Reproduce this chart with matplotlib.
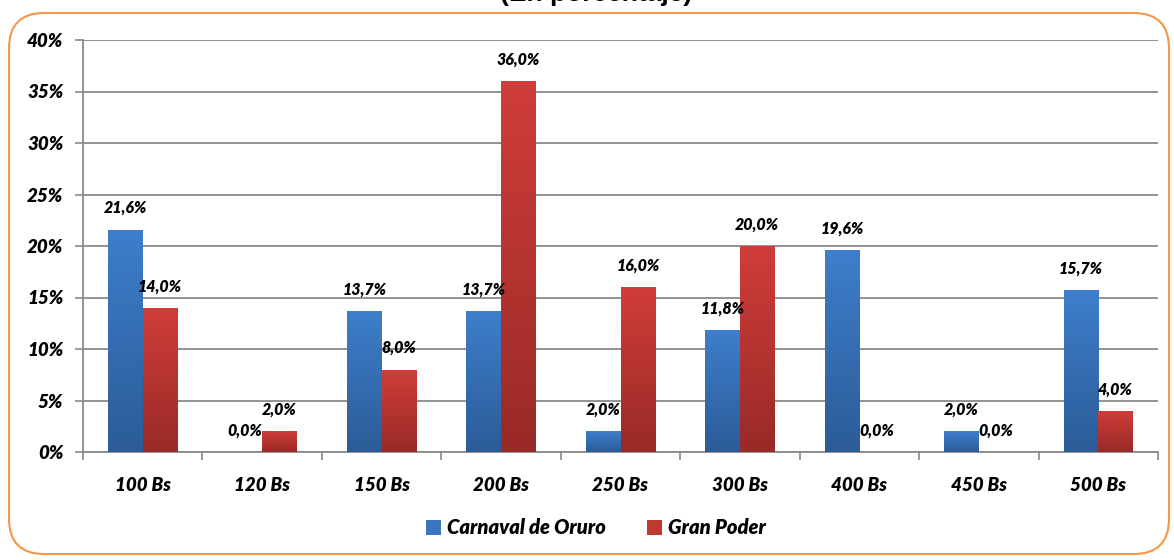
import numpy as np
import matplotlib
matplotlib.use("Agg")
import matplotlib.pyplot as plt
from matplotlib.patches import FancyBboxPatch
from matplotlib.colors import LinearSegmentedColormap

# Data
categories = ['100 Bs', '120 Bs', '150 Bs', '200 Bs', '250 Bs', '300 Bs', '400 Bs', '450 Bs', '500 Bs']
carnaval = [21.6, 0.0, 13.7, 13.7, 2.0, 11.8, 19.6, 2.0, 15.7]
gran_poder = [14.0, 2.0, 8.0, 36.0, 16.0, 20.0, 0.0, 0.0, 4.0]
series_names = ['Carnaval de Oruro', 'Gran Poder']
title = '(En porcentaje)'

plt.rcParams['font.family'] = ['Lato', 'DejaVu Sans']
WEIGHT = 'heavy'

fig = plt.figure(figsize=(11.74, 5.6), dpi=100)
ax = fig.add_axes([83 / 1174, 108 / 560, 1075 / 1174, 412 / 560])

# Orange rounded frame around the chart
frame = FancyBboxPatch((9 / 1174, 6 / 560), 1160 / 1174, 541 / 560,
                       boxstyle="round,pad=0,rounding_size=0.03",
                       transform=fig.transFigure, facecolor='none',
                       edgecolor='#F79646', linewidth=1.5, mutation_aspect=1174 / 560)
fig.patches.append(frame)

# title is partly cut by the top edge in the original
fig.text(0.508, 1 - 6 / 560, title, ha='center', va='bottom', fontsize=19,
         fontweight='bold', family=['Liberation Sans', 'DejaVu Sans'])

x = np.arange(len(categories))
w = 0.29
blue_cmap = LinearSegmentedColormap.from_list('b', ['#2b5c98', '#3e7ecb'])
red_cmap = LinearSegmentedColormap.from_list('r', ['#992a27', '#d03d3a'])

bars1 = ax.bar(x - w / 2, carnaval, w, color='#3a76c0', label=series_names[0], zorder=3)
bars2 = ax.bar(x + w / 2, gran_poder, w, color='#c0392f', label=series_names[1], zorder=3)

grad = np.linspace(0, 1, 100).reshape(-1, 1)
for bars, cmap in [(bars1, blue_cmap), (bars2, red_cmap)]:
    for b in bars:
        if b.get_height() <= 0:
            continue
        x0, y0 = b.get_x(), b.get_y()
        im = ax.imshow(grad, extent=[x0, x0 + b.get_width(), y0, y0 + b.get_height()],
                       origin='lower', aspect='auto', cmap=cmap, zorder=4)
        im.set_clip_path(b)

# value labels
for vals, off in [(carnaval, -w / 2), (gran_poder, w / 2)]:
    for i, v in enumerate(vals):
        ax.text(i + off, v + 2.1, ('%.1f%%' % v).replace('.', ','), ha='center', va='center',
                fontsize=11.5, fontweight=WEIGHT, style='italic', zorder=5)

ax.set_xlim(-0.5, len(categories) - 0.5)
ax.set_ylim(0, 40)
ax.set_yticks(np.arange(0, 41, 5))
ax.set_yticklabels(['%d%%' % t for t in range(0, 41, 5)])
ax.set_xticks(x)
ax.set_xticklabels(categories)
ax.set_xticks(np.arange(-0.5, len(categories), 1), minor=True)

for lab in ax.get_xticklabels() + ax.get_yticklabels():
    lab.set_fontweight(WEIGHT)
    lab.set_fontstyle('italic')
for lab in ax.get_yticklabels():
    lab.set_fontsize(13.5)
for lab in ax.get_xticklabels():
    lab.set_fontsize(13.5)

ax.tick_params(axis='x', which='major', length=0, pad=18)
ax.tick_params(axis='x', which='minor', length=6, color='#898989', width=1.2)
ax.tick_params(axis='y', length=6, color='#898989', width=1.2, pad=8)

ax.grid(axis='y', color='#898989', linewidth=1.3, zorder=0)
ax.set_axisbelow(True)
for s in ['top', 'right']:
    ax.spines[s].set_visible(False)
for s in ['left', 'bottom']:
    ax.spines[s].set_color('#898989')
    ax.spines[s].set_linewidth(1.3)

fig.legend(handles=[bars1, bars2], labels=series_names, loc='center',
           bbox_to_anchor=(596 / 1174, 1 - 528 / 560), ncol=2, frameon=False,
           prop={'weight': WEIGHT, 'style': 'italic', 'size': 14.5},
           handlelength=0.75, handleheight=0.75, handletextpad=0.3, columnspacing=2.0)

fig.savefig('out.png', dpi=100)
